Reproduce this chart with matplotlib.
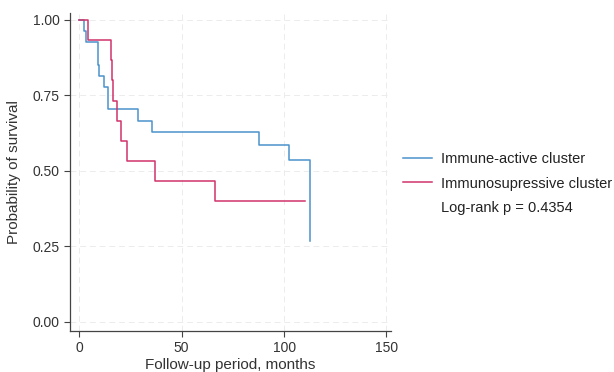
import matplotlib
matplotlib.use("Agg")
import matplotlib.pyplot as plt
from matplotlib.lines import Line2D

plt.rcParams['font.family'] = ['Liberation Sans', 'DejaVu Sans']

# Data (Kaplan-Meier step functions)
active_t = [0, 2.4, 3.1, 9.0, 9.8, 12.2, 14.2, 28.8, 35.7, 87.6, 102.3, 112.9]
active_s = [1.0, 0.963, 0.926, 0.852, 0.815, 0.778, 0.704, 0.667, 0.630, 0.586, 0.535, 0.267]
supp_t = [0, 4.4, 15.3, 15.8, 16.3, 18.3, 20.2, 23.2, 37.0, 66.3, 110.3]
supp_s = [1.0, 0.933, 0.867, 0.800, 0.733, 0.667, 0.600, 0.533, 0.467, 0.400, 0.400]

labels = ["Immune-active cluster", "Immunosupressive cluster", "Log-rank p = 0.4354"]
xticks = [0, 50, 100, 150]
yticks = [0.0, 0.25, 0.5, 0.75, 1.0]

blue = '#4a92cc'
red = '#d0336b'

fig = plt.figure(figsize=(6.14, 3.72), dpi=100)
ax = fig.add_axes([70/614, 1-331/372, (391-70)/614, (331-13)/372])

ax.plot(active_t, active_s, drawstyle='steps-post', color=blue, lw=1.1)
ax.plot(supp_t, supp_s, drawstyle='steps-post', color=red, lw=1.1)

ax.set_xlim(-4.5, 152.2)
ax.set_ylim(-0.03, 1.023)
ax.set_xticks(xticks)
ax.set_yticks(yticks)
ax.set_yticklabels([f"{v:.2f}" for v in yticks])
ax.grid(True, color='#ececec', linestyle=(0, (6, 4)), lw=0.7)
ax.set_axisbelow(True)
for s in ['top', 'right']:
    ax.spines[s].set_visible(False)
for s in ['left', 'bottom']:
    ax.spines[s].set_color('#444444')
    ax.spines[s].set_linewidth(0.9)
ax.tick_params(axis='both', colors='#444444', labelcolor='#333333', labelsize=10, length=4, width=0.8)
ax.set_xlabel("Follow-up period, months", fontsize=11, color='#333333', labelpad=2)
ax.set_ylabel("Probability of survival", fontsize=11, color='#333333', labelpad=8)

handles = [Line2D([], [], color=blue, lw=1.1),
           Line2D([], [], color=red, lw=1.1),
           Line2D([], [], color='none', lw=0)]
leg = fig.legend(handles, labels, loc='upper left', bbox_to_anchor=(403/614, 1-152/372),
                 frameon=False, fontsize=10.5, handlelength=2.0, handletextpad=0.6,
                 labelspacing=0.72, borderaxespad=0, borderpad=0)
for t in leg.get_texts():
    t.set_color('#222222')

fig.savefig("out.png", dpi=100)
